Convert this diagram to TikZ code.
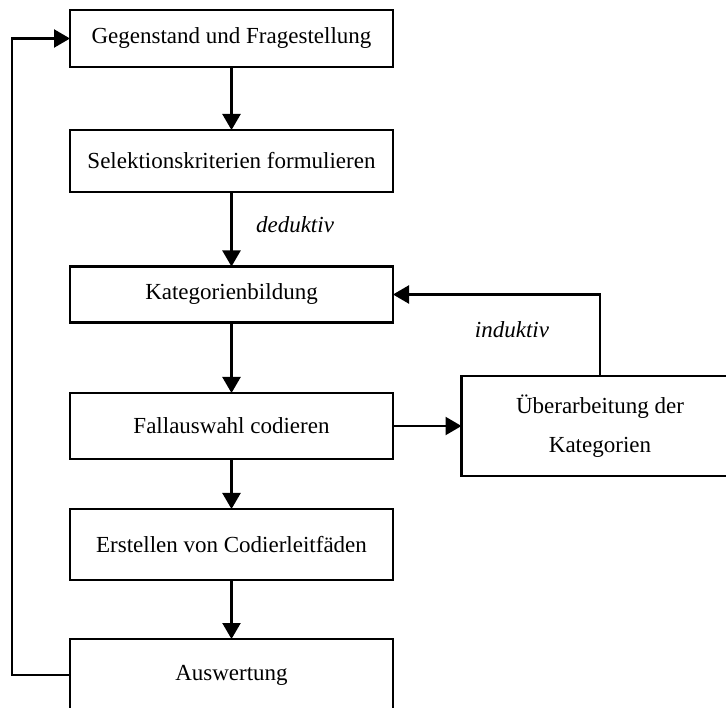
\documentclass[tikz,border=0pt]{standalone}
\usepackage{fontspec}
\setmainfont{Liberation Serif}
\usetikzlibrary{arrows.meta}
\begin{document}
\begin{tikzpicture}[x=1pt,y=-1pt,
  box/.style={draw, line width=2.3pt, rectangle, inner sep=0pt, outer sep=0pt,
    minimum width=323pt, font=\fontsize{23}{39}\selectfont, align=center},
  conn/.style={line width=2.3pt, -{Triangle[length=16pt,width=18pt]}},
  lbl/.style={font=\fontsize{23}{27}\selectfont\itshape, inner sep=0pt}]
\useasboundingbox (0,0) rectangle (726,708);
\node[box, minimum height=57pt] (b1) at (231.5,38.5) {Gegenstand und Fragestellung};
\node[box, minimum height=62pt] (b2) at (231.5,161) {Selektionskriterien formulieren};
\node[box, minimum height=56pt] (b3) at (231.5,294.5) {Kategorienbildung};
\node[box, minimum height=66pt] (b4) at (231.5,426) {Fallauswahl codieren};
\node[box, minimum height=71pt] (b6) at (231.5,544.5) {Erstellen von Codierleitfäden};
\node[box, minimum height=72pt] (b7) at (231.5,675) {Auswertung};
\node[box, minimum width=277pt, minimum height=100pt] (b5) at (600,426) {Überarbeitung der\\Kategorien};
\node[lbl] (ded) at (295,225) {deduktiv};
\node[lbl] (ind) at (512,330) {induktiv};
\coordinate (c1) at (12,675);
\coordinate (c2) at (12,38.5);
\coordinate (c3) at (600,294.5);
\draw[conn] (b1) -- (b2);
\draw[conn] (b2) -- (b3);
\draw[conn] (b3) -- (b4);
\draw[conn] (b4) -- (b6);
\draw[conn] (b6) -- (b7);
\draw[conn] (b4) -- (b5);
\draw[conn] (b5.north) -- (c3) -- (b3.east);
\draw[conn] (b7.west) -- (c1) -- (c2) -- (b1.west);
\end{tikzpicture}
\end{document}
